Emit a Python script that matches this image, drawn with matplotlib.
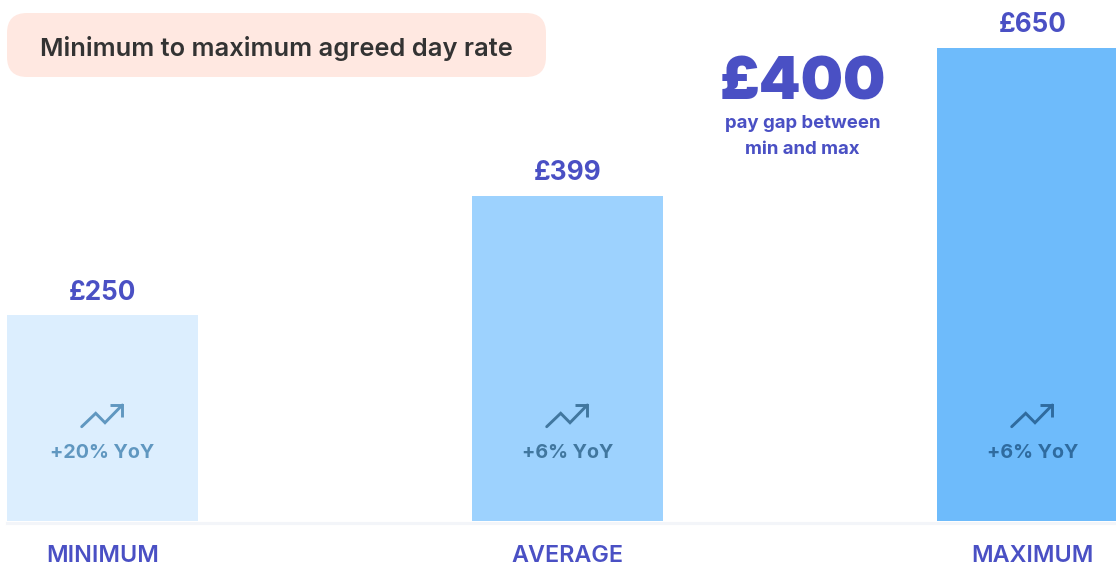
"""Minimum to maximum agreed day rate bars."""
import matplotlib
matplotlib.use("Agg")
import matplotlib.pyplot as plt
import numpy as np
from matplotlib.patches import FancyBboxPatch
from matplotlib.transforms import Affine2D

W, H = 1116, 567
BASE_Y = 521
BAR_STEP = 465
FIRST_X = 102.5
BAR_W = 191

categories = ["MINIMUM", "AVERAGE", "MAXIMUM"]
value_labels = ["£250", "£399", "£650"]
# the bars in the source are not proportional to the labels, so these are drawn heights
bar_heights = [206, 325, 473]
yoy_labels = ["+20% YoY", "+6% YoY", "+6% YoY"]
bar_colors = ["#dceefe", "#9dd2fe", "#6ebbfb"]
yoy_colors = ["#6097c0", "#41779f", "#2f6b9f"]

INDIGO = "#4a50c4"
plt.rcParams["font.family"] = ["Inter", "DejaVu Sans"]

fig = plt.figure(figsize=(W / 100, H / 100), dpi=100)
ax = fig.add_axes([0, 0, 1, 1])
ax.set_xlim(-FIRST_X / BAR_STEP, (W - FIRST_X) / BAR_STEP)
ax.set_ylim(BASE_Y - H, BASE_Y)
ax.axis("off")

# top-left pixel coordinates for the furniture around the chart
px = Affine2D().scale(1, -1).translate(0, H)

x = np.arange(len(categories))
ax.bar(x, bar_heights, width=BAR_W / BAR_STEP, color=bar_colors, zorder=2)
ax.axhline(-1.5, color="#f3f5f9", lw=2.2, xmin=7 / W, zorder=1)

# trend icon, in pixels from bar centre / baseline
icon_x = np.array([-20.8, -6.8, 2.5, 19.8])
icon_y = np.array([94.3, 107.7, 98.3, 116.0])
head_x = np.array([7.5, 19.8, 19.8])
head_y = np.array([116.0, 116.0, 104.3])

for i, cat in enumerate(categories):
    ax.text(i, bar_heights[i] + 22.5, value_labels[i], ha="center", va="center",
            fontsize=18.8, fontweight="bold", color=INDIGO)
    ax.text(i, -34.5, cat, ha="center", va="center", fontsize=16.8,
            fontweight="semibold", color=INDIGO)
    ax.text(i, 68, yoy_labels[i], ha="center", va="center", fontsize=14.2,
            fontweight="bold", color=yoy_colors[i], zorder=3)
    ax.plot(i + icon_x / BAR_STEP, icon_y, color=yoy_colors[i], lw=2.1,
            solid_capstyle="round", solid_joinstyle="miter", zorder=3)
    ax.plot(i + head_x / BAR_STEP, head_y, color=yoy_colors[i], lw=2.1,
            solid_capstyle="butt", solid_joinstyle="miter", zorder=3)

box = FancyBboxPatch((7, 13), 539, 64, boxstyle="round,pad=0,rounding_size=20",
                     fc="#ffe8e1", ec="none", transform=px, zorder=4)
fig.add_artist(box)
fig.text(276.5, 48.5, "Minimum to maximum agreed day rate", transform=px, ha="center",
         va="center", fontsize=18.35, fontweight="semibold", color="#333333", zorder=5)

fig.text(803, 84, "£400", transform=px, ha="center", va="center", fontsize=43,
         fontweight="black", color=INDIGO)
fig.text(803, 123.5, "pay gap between", transform=px, ha="center", va="center",
         fontsize=13.4, fontweight="bold", color=INDIGO)
fig.text(802, 149.5, "min and max", transform=px, ha="center", va="center",
         fontsize=13.4, fontweight="bold", color=INDIGO)

fig.savefig("out.png", dpi=100)
plt.close(fig)
